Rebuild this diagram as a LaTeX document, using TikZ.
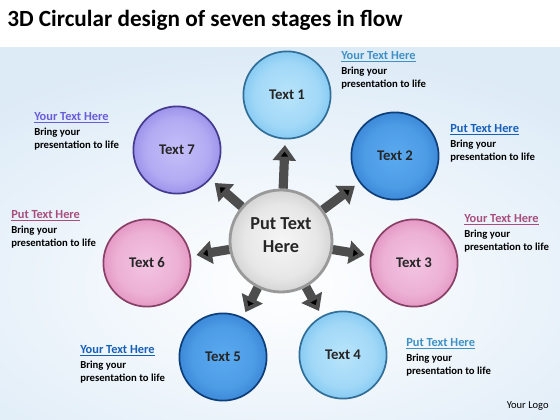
\documentclass[tikz,border=0pt]{standalone}
\usepackage{fontspec}
\setmainfont{Carlito}
\usepackage{tikz}
\usetikzlibrary{arrows.meta,positioning}

\definecolor{bgblue}{HTML}{DDEBF7}
\definecolor{skyin}{HTML}{B8E4FB}  \definecolor{skyout}{HTML}{4AAAE8}
\definecolor{bluein}{HTML}{5AAAF0} \definecolor{blueout}{HTML}{1660BA}
\definecolor{pinkin}{HTML}{F3C4E2} \definecolor{pinkout}{HTML}{D2629F}
\definecolor{violin}{HTML}{C4BFF9} \definecolor{violout}{HTML}{6A5BDA}
\definecolor{greyin}{HTML}{F6F6F6} \definecolor{greyout}{HTML}{A9A9A9}
\definecolor{arrowgrey}{HTML}{4D4D4D}

% shading for the discs, colours set per node
\colorlet{discin}{white}\colorlet{discout}{gray}
\pgfdeclareradialshading[discin,discout]{disc}{\pgfpointorigin}{color(0bp)=(discin); color(18bp)=(discin!80!discout); color(42bp)=(discout); color(50bp)=(discout!75!black)}

\begin{document}
\begin{tikzpicture}[x=0.025cm,y=-0.025cm,
    disc/.style 2 args={circle, shading=disc, /utils/exec={\colorlet{discin}{#1}\colorlet{discout}{#2}}, draw=#2!65!black, line width=1.2pt},
    stage/.style={inner sep=0pt, minimum size=2.18cm, text=black!85, font=\bfseries\fontsize{10.5}{12}\selectfont},
    hub/.style={circle, inner sep=0pt, minimum size=2.55cm, disc={greyin}{greyout}, draw=gray!80, line width=2pt, align=center, text=black!85, text depth=8pt, font=\bfseries\fontsize{13}{16.5}\selectfont},
    flow/.style={draw=arrowgrey, line width=6.5pt, -{Triangle[width=16pt,length=11pt]}, shorten >=4pt},
    heading/.style={anchor=west, inner sep=0pt, font=\bfseries\fontsize{8.8}{10}\selectfont},
    blurb/.style={align=left, inner sep=0pt, font=\bfseries\fontsize{7.6}{9.4}\selectfont}]
  \useasboundingbox (0,0) rectangle (560,420);
  \fill[white] (0,0) rectangle (560,420);
  \shade[inner color=white, outer color=bgblue] (-150,48) rectangle (710,520);
  \fill[white] (0,0) rectangle (560,46);

  \node[anchor=base west, inner sep=0pt, font=\bfseries\fontsize{16.5}{19}\selectfont] (title) at (7,27) {3D Circular design of seven stages in flow};

  \node[hub] (hub) at (281,241) {Put Text\\Here};
  \node[stage, disc={skyin}{skyout}] (t1) at (287,95) {Text 1};
  \node[stage, disc={bluein}{blueout}] (t2) at (395,156) {Text 2};
  \node[stage, disc={pinkin}{pinkout}] (t3) at (414,263) {Text 3};
  \node[stage, disc={skyin}{skyout}] (t4) at (343,355) {Text 4};
  \node[stage, disc={bluein}{blueout}] (t5) at (223,357) {Text 5};
  \node[stage, disc={pinkin}{pinkout}] (t6) at (147,263) {Text 6};
  \node[stage, disc={violin}{violout}] (t7) at (177,150) {Text 7};

  \path[flow]
    (hub) edge (t1)
          edge (t2)
          edge (t3)
          edge (t4)
          edge (t5)
          edge (t6)
          edge (t7);

  % captions
  \node[heading, text=skyout!85!black] (h1) at (341,57) {\underline{Your Text Here}};
  \node[blurb, below=3pt of h1.south west, anchor=north west] (b1) {Bring your\\presentation to life};
  \node[heading, text=blueout] (h2) at (450,130) {\underline{Put Text Here}};
  \node[blurb, below=3pt of h2.south west, anchor=north west] (b2) {Bring your\\presentation to life};
  \node[heading, text=pinkout!80!black] (h3) at (464,220) {\underline{Your Text Here}};
  \node[blurb, below=3pt of h3.south west, anchor=north west] (b3) {Bring your\\presentation to life};
  \node[heading, text=skyout!85!black] (h4) at (406,344) {\underline{Put Text Here}};
  \node[blurb, below=3pt of h4.south west, anchor=north west] (b4) {Bring your\\presentation to life};
  \node[heading, text=blueout] (h5) at (80,351) {\underline{Your Text Here}};
  \node[blurb, below=3pt of h5.south west, anchor=north west] (b5) {Bring your\\presentation to life};
  \node[heading, text=pinkout!80!black] (h6) at (11,216) {\underline{Put Text Here}};
  \node[blurb, below=3pt of h6.south west, anchor=north west] (b6) {Bring your\\presentation to life};
  \node[heading, text=violout] (h7) at (34,118) {\underline{Your Text Here}};
  \node[blurb, below=3pt of h7.south west, anchor=north west] (b7) {Bring your\\presentation to life};

  \node[anchor=east, inner sep=0pt, font=\fontsize{7.5}{8}\selectfont] (logo) at (549,406) {Your Logo};
\end{tikzpicture}
\end{document}
